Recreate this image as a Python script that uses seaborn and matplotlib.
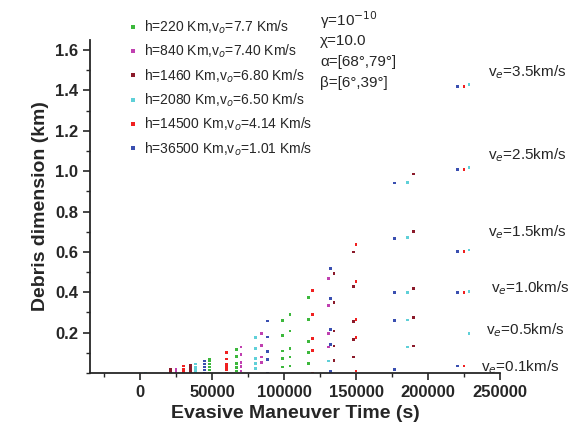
import matplotlib
matplotlib.use("Agg")
import matplotlib.pyplot as plt
import seaborn as sns
import pandas as pd
from matplotlib.ticker import MultipleLocator

# values: x = maneuver time (s), y = debris dimension (km)
h220_x = [48000] * 6 + [66700] * 5 + [98800] * 5 + [104000] * 5 + [117000] * 5
h220_y = [0, .015, .03, .045, .06, .07, .118, .081, .046, .026, .01,
          .262, .184, .109, .071, .03, .291, .208, .121, .079, .035,
          .374, .266, .155, .1, .046]
h840_x = [24800] * 3 + [70000] * 5 + [84000] * 4 + [131000] * 4
h840_y = [0, .01, .02, .129, .093, .051, .031, .01,
          .195, .137, .079, .051, .468, .333, .197, .129]
h1460_x = [21000] * 3 + [34700] * 5 + [134700] * 5 + [148000] * 5 + [189800] * 5
h1460_y = [0, .01, .02, 0, .01, .02, .03, .04,
           .493, .349, .208, .134, .063, .60, .427, .255, .167, .079,
           .986, .701, .418, .274, .134]
h2080_x = [3500] + [38600] * 5 + [80000] * 5 + [131000] + [185600] * 5 + [228500] * 5
h2080_y = [0, 0, .01, .02, .03, .045, .175, .123, .071, .046, .021, .06,
           .944, .671, .399, .263, .129, 1.43, 1.019, .609, .402, .197]
h14500_x = [30000] * 4 + [60000] * 6 + [119700] * 5 + [150000] * 5 + [225000] * 5
h14500_y = [0, .01, .02, .035, .10, .07, .043, .031, .018, 0,
            .407, .291, .17, .113, 0, .635, .452, .266, .175, .01,
            1.42, 1.007, .602, .399, .035]
h36500_x = [44500] * 5 + [88400] * 5 + [132000] * 5 + [176600] * 5 + [220600] * 5
h36500_y = [0, .015, .03, .045, .06, .258, .179, .106, .068, 0,
            .518, .369, .217, .142, .006, .941, .668, .399, .261, .018,
            1.42, 1.007, .602, .399, .035]

labels = ["h=220 Km,v$_o$=7.7 Km/s", "h=840 Km,v$_o$=7.40 Km/s",
          "h=1460 Km,v$_o$=6.80 Km/s", "h=2080 Km,v$_o$=6.50 Km/s",
          "h=14500 Km,v$_o$=4.14 Km/s", "h=36500 Km,v$_o$=1.01 Km/s"]
colors = ["#3cb83c", "#c040b0", "#8b1a2a", "#5fd0d8", "#f02020", "#3a4fb0"]
ve_labels = ["3.5", "2.5", "1.5", "1.0", "0.5", "0.1"]

series = [(h220_x, h220_y), (h840_x, h840_y), (h1460_x, h1460_y),
          (h2080_x, h2080_y), (h14500_x, h14500_y), (h36500_x, h36500_y)]
frames = []
for lab, (xs, ys) in zip(labels, series):
    frames.append(pd.DataFrame({"t": xs, "d": ys, "orbit": lab}))
df = pd.concat(frames, ignore_index=True)

sns.set_style("ticks")
plt.rcParams["font.family"] = ["Liberation Sans", "DejaVu Sans"]

fig = plt.figure(figsize=(5.8, 4.47), dpi=100)
ax = fig.add_axes([0.155, 0.1655, 0.707, 0.745])
sns.scatterplot(data=df, x="t", y="d", hue="orbit", palette=colors,
                marker="s", s=4, linewidth=0, ax=ax, legend=True)

ax.set_xlim(-35000, 250000)
ax.set_ylim(0, 1.65)
ax.set_xticks([0, 50000, 100000, 150000, 200000, 250000])
ax.xaxis.set_minor_locator(MultipleLocator(25000))
ax.set_yticks([0.2, 0.4, 0.6, 0.8, 1.0, 1.2, 1.4, 1.6])
ax.yaxis.set_minor_locator(MultipleLocator(0.1))
ax.tick_params(axis="both", which="major", labelsize=12, length=5, width=1.2)
ax.tick_params(axis="both", which="minor", length=3, width=1)
for lbl in ax.get_xticklabels() + ax.get_yticklabels():
    lbl.set_fontweight("bold")
for s in ["left", "bottom"]:
    ax.spines[s].set_linewidth(1.3)
sns.despine(ax=ax)
ax.set_xlabel("Evasive Maneuver Time (s)", fontsize=14, fontweight="bold")
ax.set_ylabel("Debris dimension (km)", fontsize=14, fontweight="bold")

ax.legend(loc="upper left", bbox_to_anchor=(112 / 580, 1 - 6 / 447),
          bbox_transform=fig.transFigure, frameon=False, fontsize=10,
          handletextpad=0.2, labelspacing=0.5, markerscale=1.5, title=None,
          handlelength=1.2)

for i, t in enumerate(["γ=10$^{-10}$", "χ=10.0", "α=[68°,79°]", "β=[6°,39°]"]):
    fig.text(320 / 580, 1 - (20 + 21 * i) / 447, t, fontsize=11, va="center")

ve_pos = [(527, 72), (527, 155), (527, 232), (530, 288), (525, 330), (520, 367)]
for v, (px, py) in zip(ve_labels, ve_pos):
    fig.text(px / 580, 1 - py / 447, "v$_e$=" + v + "km/s", fontsize=11,
             ha="center", va="center")

fig.savefig("out.png", dpi=100)
